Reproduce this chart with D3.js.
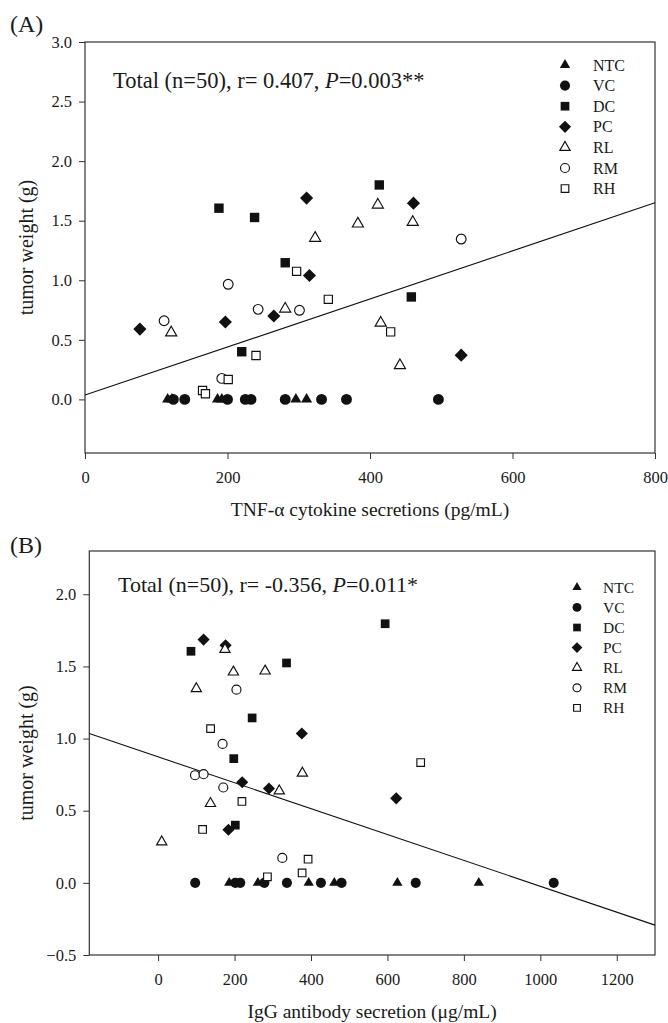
<!DOCTYPE html>
<html>
<head>
<meta charset="utf-8">
<script src="https://cdn.jsdelivr.net/npm/d3@7"></script>
<style>
  body { margin: 0; background: #fff; }
  svg text { font-family: "Liberation Serif", "Times New Roman", serif; fill: #1a1a1a; }
</style>
</head>
<body>
<svg id="chart" width="668" height="1023"></svg>
<script>
// groups, in legend and drawing order
var groups = ["NTC", "VC", "DC", "PC", "RL", "RM", "RH"];
var shapes = ["triangle", "circle", "square", "diamond", "triangle", "circle", "square"];
var filled = [true, true, true, true, false, false, false];

// (A) TNF-a secretion (pg/mL) vs tumor weight (g)
var tnfNTC = [[116, 0], [122, 0], [186, 0], [192, 0], [296, 0], [311, 0]];
var tnfVC = [[124, 0], [140, 0], [200, 0], [225, 0], [233, 0], [281, 0], [332, 0], [367, 0], [496, 0]];
var tnfDC = [[188, 1.605], [220, 0.40], [238, 1.527], [281, 1.147], [413, 1.80], [458, 0.86]];
var tnfPC = [[77, 0.59], [197, 0.65], [265, 0.70], [311, 1.69], [315, 1.04], [461, 1.647], [528, 0.371]];
var tnfRL = [[121, 0.56], [281, 0.76], [323, 1.354], [383, 1.474], [411, 1.633], [415, 0.642], [442, 0.285], [460, 1.488]];
var tnfRM = [[111, 0.66], [192, 0.176], [201, 0.966], [243, 0.756], [301, 0.748], [528, 1.346]];
var tnfRH = [[165, 0.075], [169, 0.047], [201, 0.167], [240, 0.368], [297, 1.075], [341.5, 0.84], [429, 0.567]];
var tnfFit = [[0, 0.036], [800, 1.65]];
var tnfXTicks = [0, 200, 400, 600, 800];
var tnfYTicks = [0, 0.5, 1.0, 1.5, 2.0, 2.5, 3.0];

// (B) IgG secretion (ug/mL) vs tumor weight (g)
var iggNTC = [[186, 0], [261, 0], [394, 0], [461, 0], [626, 0], [839, 0]];
var iggVC = [[97, 0], [202, 0], [215, 0], [278, 0], [337, 0], [426, 0], [480, 0], [674, 0], [1035, 0]];
var iggDC = [[86, 1.605], [198, 0.861], [202, 0.40], [246, 1.143], [336, 1.524], [594, 1.796]];
var iggPC = [[119, 1.686], [176.5, 1.646], [184, 0.368], [220, 0.697], [290, 0.654], [376, 1.035], [623, 0.586]];
var iggRL = [[9.5, 0.284], [100, 1.346], [137, 0.55], [175, 1.618], [197, 1.461], [280, 1.468], [317, 0.637], [377.5, 0.76]];
var iggRM = [[96.6, 0.746], [119, 0.753], [168.7, 0.963], [170.5, 0.661], [205, 1.339], [325, 0.173]];
var iggRH = [[116.4, 0.37], [137.3, 1.069], [219.3, 0.564], [286, 0.042], [376.8, 0.069], [392.4, 0.164], [687, 0.834]];
var iggFit = [[-180, 1.035], [1300, -0.293]];
var iggXTicks = [0, 200, 400, 600, 800, 1000, 1200];
var iggYTicks = [-0.5, 0, 0.5, 1.0, 1.5, 2.0];

var svg = d3.select("#chart");
var fmt = d3.format(".1f");

// marker path (area per shape), diamond = rotated square
function markerPath(shape, isFilled, s) {
	var k = s * s;
	if (shape == "triangle") return d3.symbol(d3.symbolTriangle, (isFilled ? 46 : 46) * k)();
	if (shape == "circle") return d3.symbol(d3.symbolCircle, (isFilled ? 80 : 64) * k)();
	if (shape == "square") return d3.symbol(d3.symbolSquare, (isFilled ? 76 : 58) * k)();
	return d3.symbol(d3.symbolSquare, 74 * k)();
}

function drawMarker(g, i, px, py, s) {
	g.append("path")
		.attr("d", markerPath(shapes[i], filled[i], s))
		.attr("transform", "translate(" + px + "," + py + ")" + (shapes[i] == "diamond" ? " rotate(45)" : ""))
		.attr("fill", filled[i] ? "#111" : "#fff")
		.attr("stroke", filled[i] ? "none" : "#111")
		.attr("stroke-width", 1.15);
}

function drawPanel(p) {
	var x = d3.scaleLinear().domain(p.xDomain).range([p.left, p.right]);
	var y = d3.scaleLinear().domain(p.yDomain).range([p.bottom, p.top]);
	var g = svg.append("g");

	// axes (ticks + labels), frame drawn separately
	var xAxis = g.append("g")
		.attr("transform", "translate(0," + p.bottom + ")")
		.call(d3.axisBottom(x).tickValues(p.xTicks).tickSize(6).tickSizeOuter(0).tickPadding(12.5).tickFormat(d3.format("d")));
	var yAxis = g.append("g")
		.attr("transform", "translate(" + p.left + ",0)")
		.call(d3.axisLeft(y).tickValues(p.yTicks).tickSize(6).tickSizeOuter(0).tickPadding(7).tickFormat(fmt));
	[xAxis, yAxis].forEach(function (a) {
		a.select(".domain").remove();
		a.selectAll("line").attr("stroke", "#333");
		a.selectAll("text").attr("font-family", "Liberation Serif").attr("font-size", 16.5).attr("fill", "#1a1a1a");
	});

	g.append("rect")
		.attr("x", p.left).attr("y", p.top)
		.attr("width", p.right - p.left).attr("height", p.bottom - p.top)
		.attr("fill", "none").attr("stroke", "#333").attr("stroke-width", 1.2);

	// regression line
	g.append("path")
		.attr("d", d3.line().x(function (d) { return x(d[0]); }).y(function (d) { return y(d[1]); })(p.fit))
		.attr("fill", "none").attr("stroke", "#111").attr("stroke-width", 1.1);

	// points
	p.series.forEach(function (pts, i) {
		pts.forEach(function (d) { drawMarker(g, i, x(d[0]), y(d[1]), p.markScale); });
	});

	// legend
	groups.forEach(function (name, i) {
		var ly = p.legY + i * p.legStep;
		drawMarker(g, i, p.legX, ly, p.legScale);
		g.append("text").attr("x", p.legX + p.legGap).attr("y", ly).attr("dy", "0.35em")
			.attr("font-size", p.legFont).text(name);
	});

	// stats annotation
	var t = g.append("text").attr("x", p.noteX).attr("y", p.noteY).attr("font-size", p.noteFont);
	t.append("tspan").text(p.note[0]);
	t.append("tspan").attr("font-style", "italic").text("P");
	t.append("tspan").text(p.note[1]);

	// axis titles
	g.append("text")
		.attr("transform", "translate(" + p.yTitleX + "," + ((p.top + p.bottom) / 2) + ") rotate(-90)")
		.attr("text-anchor", "middle").attr("font-size", 20).text("tumor weight (g)");
	g.append("text")
		.attr("x", (p.left + p.right) / 2).attr("y", p.xTitleY)
		.attr("text-anchor", "middle").attr("font-size", 19.5).text(p.xTitle);

	// panel tag
	g.append("text").attr("x", 10).attr("y", p.tagY)
		.attr("font-family", p.tagFont).attr("font-size", 24).text(p.tag);
}

drawPanel({
	xDomain: [0, 800], yDomain: [-0.45, 3.0],
	left: 85, right: 655, top: 42, bottom: 453,
	xTicks: tnfXTicks, yTicks: tnfYTicks,
	series: [tnfNTC, tnfVC, tnfDC, tnfPC, tnfRL, tnfRM, tnfRH],
	fit: tnfFit, markScale: 1.08,
	legX: 565, legY: 65, legStep: 20.6, legGap: 28, legScale: 1.0, legFont: 16,
	note: ["Total (n=50), r= 0.407, ", "=0.003**"], noteX: 113, noteY: 88, noteFont: 22.5,
	yTitleX: 33, xTitleY: 516, xTitle: "TNF-\u03b1 cytokine secretions (pg/mL)",
	tag: "(A)", tagY: 32, tagFont: "Liberation Serif"
});

drawPanel({
	xDomain: [-180, 1300], yDomain: [-0.5, 2.3],
	left: 89.3, right: 655, top: 551, bottom: 955,
	xTicks: iggXTicks, yTicks: iggYTicks,
	series: [iggNTC, iggVC, iggDC, iggPC, iggRL, iggRM, iggRH],
	fit: iggFit, markScale: 1.0,
	legX: 577, legY: 587.3, legStep: 20.1, legGap: 26, legScale: 0.88, legFont: 15.5,
	note: ["Total (n=50), r= -0.356, ", "=0.011*"], noteX: 118, noteY: 592, noteFont: 22,
	yTitleX: 33, xTitleY: 1018, xTitle: "IgG antibody secretion (\u03bcg/mL)",
	tag: "(B)", tagY: 553, tagFont: "Liberation Sans"
});
</script>
</body>
</html>
